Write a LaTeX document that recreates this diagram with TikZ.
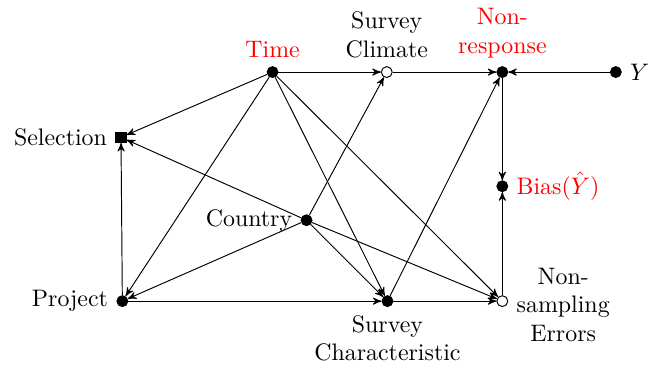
\documentclass[tikz,border=0pt]{standalone}
\usepackage{amsmath,amssymb}
\usepackage{tikz}
\usetikzlibrary{arrows,positioning}
\usepackage{xcolor}

\tikzset{
  obs/.style={circle,fill=black,draw=black,inner sep=0pt,minimum size=0.16cm},
  latent/.style={circle,fill=white,draw=black,inner sep=0pt,minimum size=0.16cm},
  sel/.style={rectangle,fill=black,draw=black,inner sep=0pt,minimum size=0.15cm},
  red label/.style={text=red},
}

\begin{document}
\begin{tikzpicture}[>=stealth', thin]
\useasboundingbox (0,0) rectangle (9.71,-5.47);

\node[obs, label={[red label]above:Time}] (time) at (4.01,-1.06) {};
\node[latent, label={[align=center]above:Survey\\Climate}] (climate) at (5.69,-1.06) {};
\node[obs, label={[red label,align=center]above:Non-\\response}] (nonresp) at (7.39,-1.06) {};
\node[obs, label=right:$Y$] (y) at (9.06,-1.06) {};
\node[sel, label=left:Selection] (selection) at (1.78,-2.02) {};
\node[obs, label={[red label]right:Bias$(\hat{Y})$}] (bias) at (7.39,-2.74) {};
\node[obs, label=left:Country] (country) at (4.51,-3.24) {};
\node[obs, label=left:Project] (project) at (1.80,-4.43) {};
\node[obs, label={[align=center]below:Survey\\Characteristic}] (survchar) at (5.70,-4.43) {};
\node[latent, label={[align=center,yshift=-1.5pt]right:Non-\\sampling\\Errors}] (nonsamp) at (7.39,-4.43) {};

\draw[->] (time) -- (climate);
\draw[->] (climate) -- (nonresp);
\draw[->] (y) -- (nonresp);
\draw[->] (time) -- (selection);
\draw[->] (time) -- (project);
\draw[->] (time) -- (survchar);
\draw[->] (time) -- (nonsamp);
\draw[->] (project) -- (selection);
\draw[->] (project) -- (survchar);
\draw[->] (survchar) -- (nonsamp);
\draw[->] (survchar) -- (nonresp);
\draw[->] (country) -- (climate);
\draw[->] (country) -- (project);
\draw[->] (country) -- (selection);
\draw[->] (country) -- (survchar);
\draw[->] (country) -- (nonsamp);
\draw[->] (nonresp) -- (bias);
\draw[->] (nonsamp) -- (bias);
\end{tikzpicture}
\end{document}
